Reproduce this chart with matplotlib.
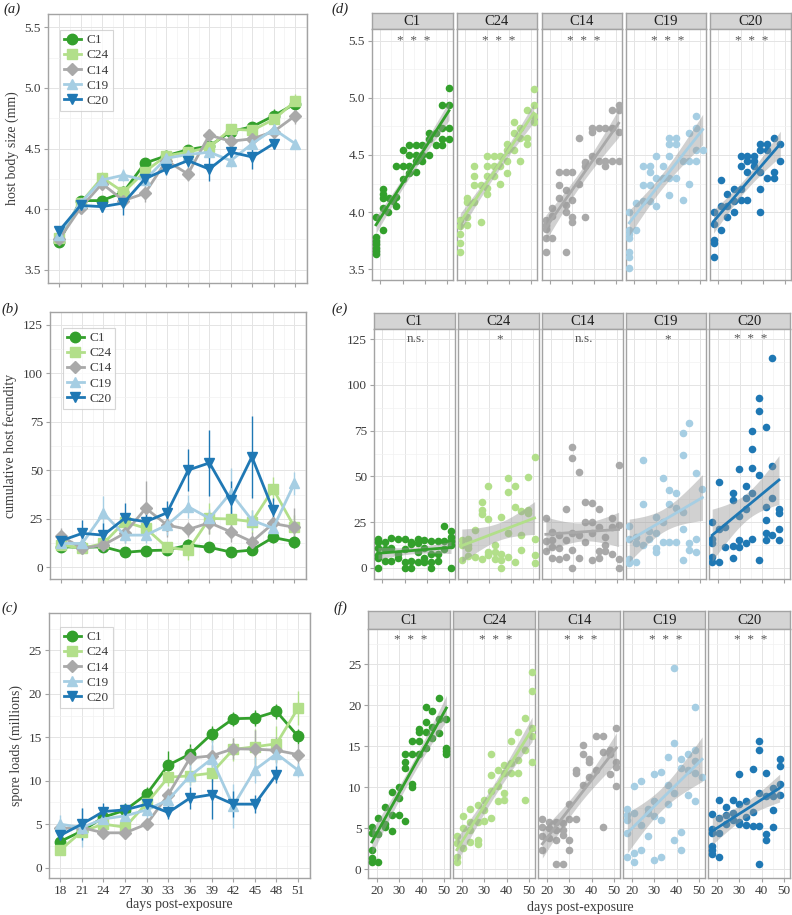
import numpy as np
import matplotlib
matplotlib.use('Agg')
import matplotlib.pyplot as plt
from matplotlib.ticker import FixedLocator, MultipleLocator, FormatStrFormatter

plt.rcParams['font.family'] = ['Liberation Serif', 'DejaVu Serif']

# ---------------- data ----------------
GROUPS = ['C1', 'C24', 'C14', 'C19', 'C20']
COLORS = ['#33a02c', '#b2df8a', '#a9a9a9', '#a6cee3', '#1f78b4']
MARKERS = ['o', 's', 'D', '^', 'v']
DAYS = [18, 21, 24, 27, 30, 33, 36, 39, 42, 45, 48, 51]
nan = np.nan

# (a) host body size, means and error
SIZE_C1 = [3.73, 4.07, 4.07, 4.14, 4.38, 4.44, 4.49, 4.52, 4.64, 4.68, 4.77, 4.87]
SIZE_C24 = [3.76, 4.05, 4.26, 4.14, 4.31, 4.44, 4.47, 4.51, 4.66, 4.65, 4.74, 4.89]
SIZE_C14 = [3.75, 4.01, 4.21, 4.07, 4.13, 4.40, 4.29, 4.61, 4.56, 4.58, 4.64, 4.77]
SIZE_C19 = [3.79, 4.05, 4.24, 4.28, 4.24, 4.42, 4.45, 4.47, 4.40, 4.54, 4.66, 4.54]
SIZE_C20 = [3.82, 4.03, 4.02, 4.05, 4.25, 4.33, 4.40, 4.33, 4.47, 4.43, 4.54, nan]
SIZE_E_C1 = [0.03, 0.04, 0.03, 0.05, 0.04, 0.04, 0.03, 0.04, 0.03, 0.03, 0.06, 0.05]
SIZE_E_C24 = [0.03, 0.04, 0.05, 0.05, 0.05, 0.05, 0.04, 0.05, 0.04, 0.04, 0.05, 0.06]
SIZE_E_C14 = [0.03, 0.05, 0.05, 0.05, 0.07, 0.06, 0.06, 0.05, 0.04, 0.04, 0.05, 0.07]
SIZE_E_C19 = [0.03, 0.04, 0.05, 0.05, 0.05, 0.05, 0.05, 0.05, 0.05, 0.05, 0.05, 0.03]
SIZE_E_C20 = [0.04, 0.04, 0.04, 0.10, 0.05, 0.05, 0.05, 0.10, 0.05, 0.10, 0.04, nan]

# (b) cumulative host fecundity
FEC_C1 = [10.6, 10.3, 10.6, 7.7, 8.6, 8.9, 11.5, 10.3, 7.9, 8.9, 15.4, 13.2]
FEC_C24 = [11.5, 9.8, 12.3, 23.5, 20.1, 10.3, 8.9, 25.2, 24.9, 23.5, 40.3, 20.9]
FEC_C14 = [16.1, 9.8, 11.5, 17.5, 30.4, 21.8, 19.5, 23.0, 18.3, 13.2, 22.6, 20.6]
FEC_C19 = [12.3, 12.3, 27.8, 16.6, 16.6, 21.8, 31.2, 25.2, 38.4, 24.3, 20.1, 43.2]
FEC_C20 = [13.7, 17.5, 16.6, 25.2, 23.5, 28.1, 50.1, 53.8, 34.6, 56.9, 29.5, nan]
FEC_E_C1 = [2, 2, 2, 1.5, 2, 1.5, 3, 2, 2, 2, 3, 3]
FEC_E_C24 = [3, 3, 3, 4, 5, 3, 5, 8, 6, 6, 6, 6]
FEC_E_C14 = [4, 3, 3, 5, 14, 6, 4, 6, 5, 5, 5, 10]
FEC_E_C19 = [3, 3, 9, 4, 4, 5, 6, 5, 13, 5, 4, 6]
FEC_E_C20 = [3, 7, 6, 8, 6, 6, 11, 17, 10, 21, 6, nan]

# (c) spore loads (millions)
SPORE_C1 = [3.0, 4.2, 5.8, 6.6, 8.45, 11.8, 13.06, 15.36, 17.13, 17.2, 17.97, 15.1]
SPORE_C24 = [2.0, 4.15, 5.0, 4.65, 7.4, 10.4, 10.56, 10.87, 13.6, 13.9, 14.25, 18.36]
SPORE_C14 = [4.5, 4.6, 4.0, 4.0, 5.0, 8.4, 12.6, 12.86, 13.67, 13.63, 13.5, 13.0]
SPORE_C19 = [5.0, 4.6, 5.6, 5.95, 6.64, 7.8, 10.56, 12.5, 7.1, 11.25, 13.1, 11.2]
SPORE_C20 = [3.7, 5.0, 6.45, 6.64, 7.3, 6.34, 8.0, 8.4, 7.3, 7.3, 10.7, nan]
SPORE_E_C1 = [0.5, 0.7, 0.7, 0.7, 0.8, 1.6, 1.2, 0.9, 0.8, 0.9, 0.9, 0.9]
SPORE_E_C24 = [0.4, 0.6, 0.6, 0.6, 0.8, 1.0, 1.0, 1.0, 1.3, 2.0, 2.1, 2.0]
SPORE_E_C14 = [0.8, 0.7, 0.7, 0.7, 0.7, 0.8, 1.3, 1.3, 1.2, 2.2, 1.5, 1.2]
SPORE_E_C19 = [1.0, 2.2, 1.0, 1.0, 1.2, 1.1, 1.2, 2.2, 2.5, 1.5, 1.5, 0.8]
SPORE_E_C20 = [0.9, 1.8, 1.0, 0.8, 1.0, 0.8, 1.3, 2.8, 1.5, 1.0, 1.0, nan]

# (d) individual body size
D_C1_X = [18, 18, 18, 18, 18, 18, 18, 21, 21, 21, 21, 21, 23.5, 24, 25.5, 27, 27, 27, 30, 30, 30,
          33, 33, 33, 33, 36, 36, 36, 36, 39, 39, 39, 42, 42, 42, 45, 45, 48, 48, 48, 48, 51, 51, 51, 51]
D_C1_Y = [3.63, 3.66, 3.69, 3.72, 3.75, 3.78, 3.96, 4.20, 4.16, 4.12, 4.04, 3.84, 4.00, 4.12, 4.10,
          4.40, 4.13, 4.05, 4.54, 4.40, 4.29, 4.59, 4.50, 4.40, 4.34, 4.59, 4.50, 4.45, 4.35,
          4.59, 4.50, 4.45, 4.69, 4.64, 4.50, 4.69, 4.59, 4.94, 4.74, 4.64, 4.59, 5.09, 4.94, 4.74, 4.64]
D_C24_X = [17.8, 17.8, 17.8, 17.8, 17.8, 21, 21, 21, 21, 24, 24, 24, 24, 27, 27, 30, 30, 30, 30, 30,
           33, 33, 33, 36, 36, 36, 39, 39, 39, 39, 42, 42, 42, 45, 45, 45, 48, 48, 48, 51, 51, 51, 51]
D_C24_Y = [3.655, 3.73, 3.81, 3.88, 3.93, 3.96, 3.885, 4.09, 4.12, 4.09, 4.24, 4.32, 4.40, 4.24, 3.91,
           4.16, 4.21, 4.32, 4.40, 4.49, 4.49, 4.40, 4.32, 4.25, 4.40, 4.49, 4.345, 4.45, 4.54, 4.60,
           4.54, 4.69, 4.79, 4.65, 4.74, 4.45, 4.89, 4.65, 4.60, 5.08, 4.94, 4.84, 4.79]
D_C14_X = [18.1, 18.1, 18.1, 18.1, 18.1, 21, 21, 21, 24, 24, 24, 27, 27, 27, 27, 27, 30, 30, 30, 30,
           33, 33, 36, 36, 36, 39, 39, 39, 42, 42, 45, 45, 45, 48, 48, 48, 51, 51, 51, 51]
D_C14_Y = [3.655, 3.77, 3.85, 3.89, 3.93, 3.77, 3.97, 4.04, 4.12, 4.24, 4.35, 3.655, 4.00, 4.06, 4.19, 4.35,
           3.91, 3.96, 4.11, 4.35, 4.25, 4.65, 3.96, 4.44, 4.40, 4.49, 4.70, 4.74, 4.45, 4.74,
           4.40, 4.45, 4.74, 4.45, 4.74, 4.89, 4.45, 4.70, 4.89, 4.94]
D_C19_X = [17.8, 17.8, 17.8, 17.8, 17.8, 17.8, 17.8, 21, 21, 24, 24, 24, 27, 27, 27, 27, 30, 30, 30,
           33, 33, 36, 36, 36, 36, 36, 39, 39, 39, 42, 42, 45, 45, 45, 48, 48, 48, 48, 51]
D_C19_Y = [3.515, 3.61, 3.655, 3.77, 3.81, 3.84, 4.00, 3.84, 4.08, 4.10, 4.24, 4.40, 4.10, 4.24, 4.35, 4.40,
           4.055, 4.30, 4.49, 4.30, 4.40, 4.15, 4.30, 4.49, 4.60, 4.65, 4.30, 4.60, 4.65, 4.11, 4.45,
           4.25, 4.45, 4.69, 4.45, 4.54, 4.74, 4.84, 4.54]
D_C20_X = [17.8, 17.8, 17.8, 17.8, 17.8, 21, 21, 21, 24, 24, 24, 27, 27, 27, 30, 30, 30, 30,
           33, 33, 33, 33, 36, 36, 36, 39, 39, 39, 39, 39, 42, 42, 42, 45, 45, 45, 48, 48]
D_C20_Y = [3.61, 3.73, 3.76, 3.90, 4.00, 3.84, 4.05, 4.28, 3.96, 4.05, 4.16, 4.00, 4.10, 4.20,
           4.11, 4.20, 4.40, 4.49, 4.11, 4.35, 4.45, 4.49, 4.40, 4.45, 4.49, 4.00, 4.20, 4.35, 4.54, 4.60,
           4.30, 4.54, 4.60, 4.30, 4.35, 4.65, 4.45, 4.60]

# (e) individual fecundity
E_C1_X = [18, 18, 18, 18, 18, 18, 21, 21, 21, 24, 24, 24, 27, 27, 27, 30, 30, 30, 30, 33, 33, 33, 33,
          36, 36, 36, 36, 39, 39, 39, 39, 42, 42, 42, 42, 45, 45, 45, 48, 48, 48, 51, 51, 51, 51, 51]
E_C1_Y = [5.1, 6.9, 11.0, 13.9, 15.7, 0.0, 14.2, 10.2, 3.6, 16.4, 3.6, 10.6, 15.7, 7.3, 5.1,
          15.7, 10.2, 2.9, 0.0, 14.2, 13.0, 3.6, 0.0, 15.7, 13.3, 8.8, 2.9, 15.1, 11.0, 5.1, 2.9,
          14.6, 7.7, 3.3, 0.0, 14.6, 7.7, 3.6, 22.8, 14.6, 10.2, 20.1, 17.0, 14.6, 12.4, 0.0]
E_C24_X = [17.8, 17.8, 17.8, 20.7, 20.7, 20.7, 20.7, 23.7, 23.7, 26.8, 26.8, 26.8, 26.8,
           29.8, 29.8, 29.8, 29.8, 32.8, 32.8, 32.8, 35.7, 35.7, 35.7, 35.7, 38.7, 38.7, 38.7, 38.7,
           41.7, 41.7, 41.7, 44.7, 44.7, 44.7, 47.7, 47.7, 47.7, 50.7, 50.7, 50.7, 50.7]
E_C24_Y = [4.2, 12.4, 15.1, 6.4, 12.4, 15.5, 10.6, 6.0, 20.6, 35.8, 31.6, 29.2, 4.6,
           44.9, 26.6, 8.8, 6.9, 8.8, 4.9, 12.4, 0.0, 4.2, 7.8, 27.6, 48.9, 41.6, 5.7, 19.2,
           44.9, 33.4, 2.9, 9.7, 17.9, 31.0, 49.8, 31.6, 29.7, 60.8, 15.5, 6.9, 2.7]
E_C14_X = [17.8, 17.8, 17.8, 20.7, 20.7, 20.7, 20.7, 23.7, 23.7, 23.7, 26.7, 26.7, 26.7,
           29.7, 29.7, 29.7, 29.7, 29.7, 32.7, 32.7, 32.7, 35.7, 35.7, 35.7, 38.7, 38.7, 38.7, 38.7,
           41.7, 41.7, 41.7, 41.7, 44.7, 44.7, 44.7, 47.7, 47.7, 47.7, 50.7, 50.7, 50.7, 50.7]
E_C14_Y = [27.0, 14.8, 9.3, 19.7, 15.1, 11.1, 5.1, 17.9, 10.6, 4.6, 31.9, 15.1, 6.0,
           66.2, 59.9, 18.8, 9.7, 0.0, 52.6, 17.9, 5.1, 36.1, 25.2, 14.2, 35.2, 25.2, 18.8, 4.2,
           31.9, 22.4, 9.1, 5.1, 16.6, 12.4, 9.1, 27.0, 22.4, 7.8, 56.2, 23.4, 4.6, 0.0]
E_C19_X = [17.8, 17.8, 17.8, 17.8, 20.9, 20.9, 20.9, 23.9, 23.9, 23.9, 26.9, 26.9,
           29.9, 29.9, 29.9, 29.9, 32.9, 32.9, 32.9, 35.9, 35.9, 35.9, 38.9, 38.9, 38.9,
           41.9, 41.9, 41.9, 41.9, 41.9, 44.9, 44.9, 44.9, 47.9, 47.9, 47.9, 50.9]
E_C19_Y = [2.4, 4.6, 15.5, 22.8, 3.3, 13.7, 17.0, 12.4, 58.9, 34.9, 15.5, 20.3,
           8.4, 10.6, 18.8, 27.9, 13.9, 25.2, 48.9, 13.9, 34.9, 42.5, 13.9, 32.5, 41.1,
           4.2, 21.0, 30.7, 61.7, 73.9, 9.7, 13.7, 79.0, 8.8, 15.5, 51.6, 42.9]
E_C20_X = [17.5, 17.5, 17.5, 17.5, 17.5, 20.7, 20.7, 20.7, 23.4, 23.4, 26.7, 26.7, 26.7, 26.7,
           29.7, 29.7, 29.7, 29.7, 32.7, 32.7, 32.7, 32.7, 35.7, 35.7, 35.7, 35.7, 35.7,
           38.7, 38.7, 38.7, 38.7, 41.7, 41.7, 41.7, 41.7, 41.7, 44.7, 44.7, 44.7, 44.7,
           47.7, 47.7, 47.7, 47.7]
E_C20_Y = [2.9, 6.0, 13.3, 15.5, 25.2, 2.9, 21.0, 47.1, 11.5, 22.4, 5.1, 12.0, 37.0, 40.7,
           11.5, 15.1, 28.3, 53.8, 13.7, 38.0, 44.9, 31.9, 15.5, 41.1, 54.7, 64.8, 74.8,
           4.2, 50.7, 85.8, 92.7, 15.1, 19.2, 26.1, 33.0, 76.8, 17.9, 38.0, 55.8, 114.6,
           15.1, 21.0, 29.7, 31.9]

# (f) individual spore loads
F_C1_X = [17.8, 17.8, 17.8, 17.8, 17.8, 20.7, 20.7, 20.7, 23.7, 23.7, 23.7, 26.7, 26.7, 26.7,
          29.7, 29.7, 29.7, 32.7, 32.7, 32.7, 32.7, 35.7, 35.7, 35.7, 35.7, 38.7, 38.7, 38.7, 38.7,
          41.7, 41.7, 41.7, 41.7, 44.7, 44.7, 44.7, 47.7, 47.7, 47.7, 50.6, 50.6, 50.6, 51.0]
F_C1_Y = [0.85, 1.4, 2.4, 5.2, 4.4, 0.9, 4.3, 6.2, 7.6, 5.5, 5.1, 6.6, 4.7, 9.4,
          6.6, 8.7, 10.0, 5.9, 12.4, 14.1, 13.1, 10.4, 10.0, 14.1, 15.7, 14.1, 15.6, 16.7, 17.1,
          14.8, 16.7, 18.0, 19.8, 16.0, 17.4, 19.3, 16.6, 18.3, 20.9, 14.8, 14.4, 14.0, 18.3]
F_C24_X = [17.8, 17.8, 17.8, 17.8, 20.7, 20.7, 20.7, 23.7, 23.7, 23.7, 23.7, 27, 27, 27, 27,
           30, 30, 30, 33, 33, 33, 33, 36, 36, 36, 39, 39, 39, 39, 42, 42, 42, 45, 45, 45,
           48, 48, 48, 51.3, 51.3, 51.3, 51.3, 51.3]
F_C24_Y = [0.9, 1.5, 3.25, 4.1, 2.6, 5.0, 6.5, 7.4, 5.8, 4.8, 3.3, 3.6, 3.05, 5.8, 7.85,
           8.45, 7.2, 5.9, 6.2, 9.6, 11.5, 14.0, 8.3, 10.1, 12.1, 8.45, 9.35, 12.7, 11.8,
           12.9, 15.6, 11.8, 11.8, 13.3, 16.8, 8.45, 14.6, 18.4, 13.1, 17.2, 16.2, 21.7, 24.0]
F_C14_X = [18, 18, 18, 18, 21, 21, 21, 24, 24, 24, 24, 27, 27, 27, 27, 30, 30, 30, 30,
           33, 33, 33, 36, 36, 36, 39, 39, 39, 42, 42, 45, 45, 45, 48, 48, 48, 51, 51, 51, 51]
F_C14_Y = [2.3, 4.1, 5.2, 6.1, 3.8, 5.0, 5.8, 0.65, 3.6, 4.8, 5.8, 0.7, 4.2, 4.8, 5.7,
           2.4, 3.6, 8.0, 6.1, 6.1, 11.8, 12.1, 10.3, 14.1, 15.1, 13.5, 13.1, 11.2, 12.1, 16.2,
           5.2, 14.3, 16.2, 11.6, 14.1, 14.6, 17.2, 13.1, 12.5, 10.2]
F_C19_X = [18, 18, 18, 18, 18, 21, 21, 21, 21, 24, 24, 24, 27, 27, 27, 30, 30, 30, 30,
           33, 33, 33, 36, 36, 36, 39, 39, 39, 39, 42, 42, 42, 42, 45, 45, 45,
           48, 48, 48, 48, 48, 51.3]
F_C19_Y = [1.5, 4.4, 6.0, 6.6, 7.4, 0.9, 2.0, 6.9, 10.2, 2.4, 5.4, 10.8, 4.1, 6.9, 7.3,
           1.1, 6.5, 8.3, 11.6, 1.5, 6.0, 11.9, 8.0, 10.3, 13.7, 3.6, 9.35, 15.4, 24.5,
           2.4, 4.5, 12.3, 13.5, 9.1, 12.1, 14.1, 8.3, 11.7, 13.2, 14.6, 19.8, 11.2]
F_C20_X = [18, 18, 18, 18, 18, 18, 21, 21, 21, 21, 24, 24, 24, 27, 27, 27, 30, 30, 30, 30,
           33, 33, 33, 36, 36, 36, 39, 39, 39, 39, 39, 42, 42, 42, 42, 45, 45, 45, 45,
           48, 48, 48, 48]
F_C20_Y = [1.9, 2.4, 2.8, 4.4, 4.9, 6.8, 1.5, 4.4, 6.2, 8.5, 6.6, 7.6, 5.5, 8.5, 6.9, 6.0,
           11.6, 8.0, 5.5, 5.8, 8.3, 6.4, 5.4, 12.2, 7.0, 5.3, 15.6, 14.6, 9.35, 5.3, 0.7,
           11.8, 8.9, 4.3, 3.6, 9.9, 8.9, 7.2, 5.1, 13.4, 12.6, 10.4, 9.1]

SIG_E = ['n.s.', '*', 'n.s.', '*', '*  *  *']

# ---------------- helpers ----------------
W, H = 792, 915
fig = plt.figure(figsize=(W / 100, H / 100), dpi=100)

SPINE = '#a3a3a3'
TXT = '#3c3c3c'
GRID_MAJ = '#e4e4e4'
GRID_MIN = '#f2f2f2'


def add_ax(l, t, r, b):
    return fig.add_axes([l / W, 1 - b / H, (r - l) / W, (b - t) / H])


def style(ax):
    ax.set_facecolor('white')
    for s in ax.spines.values():
        s.set_color(SPINE)
        s.set_linewidth(1.0)
    ax.tick_params(which='major', direction='out', length=3, width=0.8, color=SPINE,
                   labelcolor=TXT, labelsize=9.5, pad=2)
    ax.tick_params(which='minor', length=0)
    ax.grid(which='major', color=GRID_MAJ, lw=0.7)
    ax.grid(which='minor', color=GRID_MIN, lw=0.5)
    ax.set_axisbelow(True)


def line_panel(ax, means, errs, ylim, yticks, yminor, fmt, ylabel, xlabels, xlim, leg_anchor):
    style(ax)
    for g, c, m, mu, e in zip(GROUPS, COLORS, MARKERS, means, errs):
        mu = np.array(mu, float)
        e = np.array(e, float)
        ax.vlines(DAYS, mu - e, mu + e, color=c, lw=1.0, zorder=2)
        ax.plot(DAYS, mu, color=c, lw=2.0, marker=m, markersize=7.5 if m != 'D' else 6,
                markeredgecolor=c, label=g, zorder=3)
    ax.set_xlim(*xlim)
    ax.set_ylim(*ylim)
    ax.xaxis.set_major_locator(FixedLocator(DAYS))
    ax.xaxis.set_minor_locator(FixedLocator([d + 1.5 for d in [15] + DAYS]))
    ax.yaxis.set_major_locator(FixedLocator(yticks))
    ax.yaxis.set_minor_locator(FixedLocator(yminor))
    ax.yaxis.set_major_formatter(FormatStrFormatter(fmt))
    if not xlabels:
        ax.set_xticklabels([])
    ax.set_ylabel(ylabel, fontsize=10, color=TXT, labelpad=4)
    leg = ax.legend(loc='upper left', bbox_to_anchor=leg_anchor, frameon=True, fancybox=False,
                    edgecolor='#cccccc', fontsize=9.5, handlelength=1.3, handletextpad=0.4,
                    labelspacing=0.22, borderpad=0.3, borderaxespad=0)
    leg.get_frame().set_linewidth(0.8)
    for t in leg.get_texts():
        t.set_color(TXT)


def fit_band(x, y):
    x = np.asarray(x, float)
    y = np.asarray(y, float)
    n = len(x)
    b1, b0 = np.polyfit(x, y, 1)
    resid = y - (b0 + b1 * x)
    s2 = np.sum(resid ** 2) / (n - 2)
    xm = x.mean()
    sxx = np.sum((x - xm) ** 2)
    xs = np.linspace(x.min(), x.max(), 80)
    fit = b0 + b1 * xs
    se = np.sqrt(s2 * (1.0 / n + (xs - xm) ** 2 / sxx))
    return xs, fit, 2.01 * se


def facet_row(lefts, width, strip_top, strip_bot, bottom, xs_list, ys_list, ylim, yticks, yminor,
              fmt, sig, sig_y, xlabels):
    for i, (l, g, c, xs, ys, sg) in enumerate(zip(lefts, GROUPS, COLORS, xs_list, ys_list, sig)):
        sax = add_ax(l, strip_top, l + width, strip_bot)
        sax.set_facecolor('#d4d4d4')
        for s in sax.spines.values():
            s.set_color(SPINE)
            s.set_linewidth(1.0)
        sax.set_xticks([])
        sax.set_yticks([])
        sax.text(0.5, 0.47, g, transform=sax.transAxes, ha='center', va='center',
                 fontsize=10.5, color='#1e1e1e')
        ax = add_ax(l, strip_bot, l + width, bottom)
        style(ax)
        ax.scatter(xs, ys, s=30, color=c, linewidths=0, zorder=3)
        fx, fy, band = fit_band(xs, ys)
        ax.fill_between(fx, fy - band, fy + band, color='#999999', alpha=0.45, lw=0, zorder=4)
        ax.plot(fx, fy, color=c, lw=2.0, zorder=5)
        ax.text(35, sig_y, sg, ha='center', va='center', fontsize=9.5, color='#555555')
        ax.set_xlim(16.2, 52.6)
        ax.set_ylim(*ylim)
        ax.xaxis.set_major_locator(FixedLocator([20, 30, 40, 50]))
        ax.xaxis.set_minor_locator(FixedLocator([25, 35, 45]))
        ax.yaxis.set_major_locator(FixedLocator(yticks))
        ax.yaxis.set_minor_locator(FixedLocator(yminor))
        ax.yaxis.set_major_formatter(FormatStrFormatter(fmt))
        if i > 0:
            ax.tick_params(axis='y', which='both', length=0, labelleft=False)
        if not xlabels:
            ax.set_xticklabels([])


# ---------------- left column ----------------
ax_a = add_ax(48, 14, 307, 283)
line_panel(ax_a, [SIZE_C1, SIZE_C24, SIZE_C14, SIZE_C19, SIZE_C20],
           [SIZE_E_C1, SIZE_E_C24, SIZE_E_C14, SIZE_E_C19, SIZE_E_C20],
           (3.39, 5.61), [3.5, 4.0, 4.5, 5.0, 5.5], [3.75, 4.25, 4.75, 5.25], '%.1f',
           'host body size (mm)', False, (16.45, 52.65), (0.046, 0.94))

ax_b = add_ax(50, 312, 306, 579)
line_panel(ax_b, [FEC_C1, FEC_C24, FEC_C14, FEC_C19, FEC_C20],
           [FEC_E_C1, FEC_E_C24, FEC_E_C14, FEC_E_C19, FEC_E_C20],
           (-6.0, 131.5), [0, 25, 50, 75, 100, 125], [12.5, 37.5, 62.5, 87.5, 112.5], '%d',
           'cumulative host fecundity', False, (16.45, 52.65), (0.05, 0.94))

ax_c = add_ax(49, 613, 310, 878)
line_panel(ax_c, [SPORE_C1, SPORE_C24, SPORE_C14, SPORE_C19, SPORE_C20],
           [SPORE_E_C1, SPORE_E_C24, SPORE_E_C14, SPORE_E_C19, SPORE_E_C20],
           (-1.2, 29.3), [0, 5, 10, 15, 20, 25], [2.5, 7.5, 12.5, 17.5, 22.5, 27.5], '%d',
           'spore loads (millions)', True, (16.45, 52.65), (0.042, 0.947))
ax_c.set_xlabel('days post-exposure', fontsize=10, color=TXT, labelpad=1)

# ---------------- right column ----------------
facet_row([372, 456.7, 541.7, 625.7, 710], 80.5, 12.7, 29.3, 280,
          [D_C1_X, D_C24_X, D_C14_X, D_C19_X, D_C20_X],
          [D_C1_Y, D_C24_Y, D_C14_Y, D_C19_Y, D_C20_Y],
          (3.406, 5.6), [3.5, 4.0, 4.5, 5.0, 5.5], [3.75, 4.25, 4.75, 5.25], '%.1f',
          ['*  *  *'] * 5, 5.5, False)

facet_row([374, 458.3, 542.3, 625.7, 709.3], 80.5, 312.7, 329, 579.3,
          [E_C1_X, E_C24_X, E_C14_X, E_C19_X, E_C20_X],
          [E_C1_Y, E_C24_Y, E_C14_Y, E_C19_Y, E_C20_Y],
          (-6.3, 130.6), [0, 25, 50, 75, 100, 125], [12.5, 37.5, 62.5, 87.5, 112.5], '%d',
          SIG_E, 125, False)

facet_row([368.3, 453.3, 538.3, 623.3, 708.3], 81.7, 611, 629, 878.3,
          [F_C1_X, F_C24_X, F_C14_X, F_C19_X, F_C20_X],
          [F_C1_Y, F_C24_Y, F_C14_Y, F_C19_Y, F_C20_Y],
          (-1.1, 29.3), [0, 5, 10, 15, 20, 25], [2.5, 7.5, 12.5, 17.5, 22.5, 27.5], '%d',
          ['*  *  *'] * 5, 28, True)

fig.text(580 / W, 1 - 908 / H, 'days post-exposure', ha='center', va='center', fontsize=10, color=TXT)

# panel letters
for lab, x, y in [('(a)', 12, 9), ('(b)', 10, 309), ('(c)', 10, 608),
                  ('(d)', 340, 9), ('(e)', 340, 309), ('(f)', 340, 608)]:
    fig.text(x / W, 1 - y / H, lab, ha='center', va='center', fontsize=10.5,
             style='italic', color='#222222')

fig.savefig('out.png', dpi=100)
